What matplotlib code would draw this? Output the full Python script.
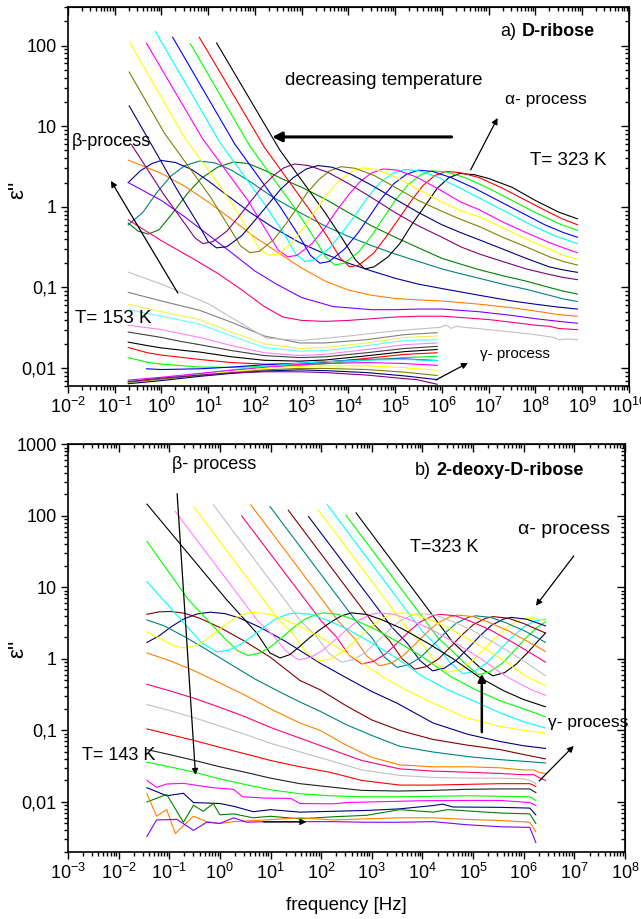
import numpy as np
import matplotlib.pyplot as plt
from matplotlib.ticker import LogLocator, FixedLocator, FixedFormatter, NullFormatter, FuncFormatter

plt.rcParams['font.family'] = ['Liberation Sans', 'DejaVu Sans']
plt.rcParams['mathtext.fontset'] = 'custom'
plt.rcParams['mathtext.rm'] = 'Liberation Sans'

# every curve: list of (log10 frequency [Hz], eps'')

# ---- a) D-ribose, alpha region (323 K downwards)
a_alpha_colors = ['#000000', '#ff0000', '#00ff00', '#0000ff', '#00ffff',
                  '#ff00ff', '#ffff00', '#808000', '#000080', '#800080']
a_alpha = [
    [(1.18, 108), (2.53, 5.1), (3.5, 0.85), (3.9, 0.38), (4.15, 0.22), (4.35, 0.17), (4.55, 0.18), (4.85, 0.24),
     (5.1, 0.35), (5.37, 0.62), (5.65, 1.05), (5.9, 1.7), (6.15, 2.3), (6.39, 2.6), (6.7, 2.5), (7.0, 2.25),
     (7.5, 1.75), (8.0, 1.2), (8.5, 0.86), (8.9, 0.71)],
    [(0.81, 127), (2.21, 5.4), (3.18, 0.9), (3.58, 0.4), (3.83, 0.23), (4.03, 0.18), (4.23, 0.19), (4.55, 0.27),
     (4.8, 0.42), (5.07, 0.7), (5.35, 1.2), (5.6, 1.85), (5.85, 2.45), (6.1, 2.75), (6.4, 2.65), (6.8, 2.3),
     (7.3, 1.7), (7.8, 1.2), (8.3, 0.85), (8.6, 0.7), (8.9, 0.6)],
    [(0.62, 105), (1.89, 5.7), (2.86, 0.95), (3.26, 0.42), (3.51, 0.24), (3.71, 0.19), (3.91, 0.2), (4.23, 0.28),
     (4.5, 0.44), (4.75, 0.73), (5.0, 1.2), (5.28, 1.89), (5.55, 2.5), (5.8, 2.8), (6.1, 2.7), (6.5, 2.3),
     (7.0, 1.7), (7.5, 1.2), (8.0, 0.85), (8.5, 0.62), (8.9, 0.51)],
    [(0.24, 127), (1.57, 6.0), (2.54, 1.0), (2.94, 0.44), (3.19, 0.25), (3.39, 0.2), (3.59, 0.21), (3.92, 0.3),
     (4.2, 0.47), (4.45, 0.76), (4.7, 1.25), (4.97, 1.93), (5.25, 2.55), (5.5, 2.85), (5.8, 2.75), (6.2, 2.3),
     (6.7, 1.7), (7.2, 1.2), (7.7, 0.85), (8.2, 0.6), (8.6, 0.48), (8.9, 0.42)],
    [(-0.13, 150), (1.25, 6.3), (2.22, 1.05), (2.62, 0.47), (2.87, 0.26), (3.07, 0.21), (3.27, 0.22), (3.6, 0.31),
     (3.88, 0.49), (4.14, 0.78), (4.4, 1.28), (4.67, 1.98), (4.95, 2.6), (5.2, 2.9), (5.5, 2.8), (5.9, 2.35),
     (6.4, 1.7), (6.9, 1.2), (7.4, 0.85), (7.9, 0.6), (8.4, 0.44), (8.9, 0.35)],
    [(-0.32, 107), (0.88, 7.0), (1.85, 1.2), (2.25, 0.5), (2.5, 0.29), (2.7, 0.24), (2.9, 0.25), (3.22, 0.35),
     (3.5, 0.55), (3.72, 0.85), (4.0, 1.4), (4.25, 2.05), (4.5, 2.65), (4.75, 2.95), (5.05, 2.85), (5.45, 2.35),
     (5.9, 1.7), (6.4, 1.15), (6.8, 0.92), (7.3, 0.65), (7.8, 0.48), (8.3, 0.36), (8.6, 0.31), (8.9, 0.27)],
    [(-0.69, 112), (0.48, 7.5), (1.45, 1.25), (1.85, 0.52), (2.1, 0.3), (2.3, 0.25), (2.5, 0.26), (2.8, 0.36),
     (3.05, 0.56), (3.3, 0.9), (3.55, 1.45), (3.8, 2.1), (4.05, 2.7), (4.3, 3.05), (4.6, 2.9), (5.0, 2.35),
     (5.5, 1.65), (6.0, 1.15), (6.4, 0.9), (6.8, 0.75), (7.3, 0.55), (7.8, 0.4), (8.3, 0.3), (8.6, 0.25), (8.9, 0.225)],
    [(-0.69, 47), (0.07, 8.1), (1.04, 1.35), (1.44, 0.57), (1.69, 0.33), (1.89, 0.27), (2.09, 0.28), (2.4, 0.39),
     (2.65, 0.6), (2.88, 0.93), (3.12, 1.5), (3.36, 2.15), (3.6, 2.8), (3.85, 3.15), (4.15, 3.0), (4.55, 2.45),
     (5.0, 1.75), (5.5, 1.2), (6.0, 0.88), (6.4, 0.7), (6.8, 0.57), (7.3, 0.42), (7.8, 0.32), (8.3, 0.24),
     (8.6, 0.21), (8.9, 0.19)],
    [(-0.69, 17.9), (0.0, 3.6), (0.33, 1.65), (0.78, 0.62), (1.0, 0.37), (1.18, 0.31), (1.4, 0.32), (1.72, 0.44),
     (2.0, 0.68), (2.27, 1.05), (2.55, 1.65), (2.82, 2.3), (3.1, 2.95), (3.35, 3.25), (3.65, 3.1), (4.05, 2.55),
     (4.5, 1.85), (5.0, 1.25), (5.5, 0.85), (6.0, 0.6), (6.4, 0.48), (6.8, 0.39), (7.3, 0.3), (7.8, 0.23),
     (8.3, 0.18), (8.6, 0.165), (8.9, 0.154)],
    [(-0.64, 5.9), (0.04, 1.45), (0.5, 0.62), (0.72, 0.41), (0.89, 0.35), (1.1, 0.37), (1.4, 0.5), (1.65, 0.75),
     (1.9, 1.15), (2.15, 1.75), (2.4, 2.45), (2.62, 3.05), (2.85, 3.4), (3.15, 3.25), (3.55, 2.7), (4.0, 1.95),
     (4.5, 1.3), (5.0, 0.85), (5.5, 0.58), (6.0, 0.42), (6.4, 0.32), (6.8, 0.26), (7.3, 0.21), (7.8, 0.17),
     (8.3, 0.145), (8.6, 0.133), (8.9, 0.125)],
]

a_mid_colors = ['#008000', '#008080', '#0000a0', '#ff8000', '#8000ff', '#ff0080', '#c0c0c0']
a_mid = [
    [(-0.71, 0.63), (-0.5, 0.5), (-0.28, 0.46), (-0.05, 0.52), (0.25, 0.85), (0.55, 1.45), (0.85, 2.25),
     (1.2, 3.1), (1.54, 3.6), (1.85, 3.45), (2.2, 2.85), (2.6, 2.2), (3.0, 1.75), (3.5, 1.25), (4.0, 0.85),
     (4.5, 0.58), (5.0, 0.42), (5.5, 0.31), (6.0, 0.23), (6.4, 0.195), (6.8, 0.166), (7.3, 0.14), (7.8, 0.12),
     (8.3, 0.1), (8.6, 0.09), (8.9, 0.083)],
    [(-0.71, 0.6), (-0.4, 0.85), (-0.1, 1.5), (0.2, 2.4), (0.5, 3.25), (0.82, 3.7), (1.15, 3.5), (1.5, 2.85),
     (1.9, 2.05), (2.4, 1.3), (2.96, 0.85), (3.5, 0.58), (4.0, 0.43), (4.5, 0.33), (5.0, 0.26), (5.5, 0.21),
     (6.0, 0.17), (6.4, 0.148), (6.8, 0.13), (7.3, 0.11), (7.8, 0.095), (8.3, 0.08), (8.6, 0.072), (8.9, 0.067)],
    [(-0.71, 2.0), (-0.45, 2.8), (-0.2, 3.45), (0.0, 3.76), (0.3, 3.55), (0.65, 2.9), (1.0, 2.1), (1.4, 1.4),
     (1.9, 0.85), (2.4, 0.55), (2.96, 0.36), (3.5, 0.26), (4.0, 0.2), (4.5, 0.16), (5.0, 0.13), (5.5, 0.11),
     (6.0, 0.097), (6.8, 0.08), (7.5, 0.068), (8.0, 0.062), (8.5, 0.057), (8.9, 0.054)],
    [(-0.71, 3.8), (0.0, 2.6), (0.5, 1.8), (1.0, 1.15), (1.5, 0.7), (2.0, 0.42), (2.5, 0.27), (2.96, 0.18),
     (3.5, 0.12), (4.0, 0.093), (4.5, 0.08), (5.0, 0.073), (5.5, 0.07), (6.0, 0.068), (6.8, 0.062), (7.5, 0.056),
     (8.0, 0.051), (8.5, 0.046), (8.9, 0.044)],
    [(-0.71, 2.0), (0.0, 1.2), (0.5, 0.75), (1.0, 0.45), (1.5, 0.27), (2.0, 0.16), (2.46, 0.11), (3.0, 0.075),
     (3.67, 0.058), (4.5, 0.053), (5.0, 0.053), (5.5, 0.054), (6.0, 0.054), (6.8, 0.05), (7.5, 0.045),
     (8.0, 0.041), (8.5, 0.038), (8.9, 0.036)],
    [(-0.71, 0.69), (0.0, 0.38), (0.72, 0.22), (1.2, 0.15), (1.7, 0.095), (2.2, 0.058), (2.6, 0.043), (3.0, 0.039),
     (3.5, 0.038), (4.0, 0.039), (4.5, 0.041), (5.0, 0.043), (5.5, 0.044), (6.0, 0.044), (6.5, 0.042), (7.0, 0.04),
     (7.5, 0.037), (8.0, 0.034), (8.3, 0.033), (8.5, 0.031), (8.9, 0.030)],
    [(-0.71, 0.155), (0.0, 0.11), (1.0, 0.063), (1.7, 0.036), (2.25, 0.0235), (3.0, 0.022), (4.0, 0.025),
     (5.0, 0.029), (5.96, 0.032), (6.1, 0.034), (6.2, 0.031), (6.3, 0.033), (6.5, 0.032), (7.0, 0.03), (7.5, 0.028),
     (8.0, 0.026), (8.4, 0.024), (8.5, 0.0225), (8.7, 0.023), (8.9, 0.0225)],
]

# ---- a) low temperatures (153 K and below), measured up to 8e5 Hz
a_low_colors = ['#808080', '#f0f050', '#60ffff', '#ff80ff', '#404040', '#000000', '#ff0000', '#00ff00',
                '#0000ff', '#00ffff', '#ff00ff', '#ffff00', '#808000', '#000080', '#800080']
a_low = [
    [(-0.71, 0.087), (0.0, 0.068), (0.82, 0.052), (1.5, 0.037), (2.2, 0.025), (2.96, 0.0205), (3.5, 0.0205),
     (4.39, 0.0225), (5.2, 0.026), (5.9, 0.0275)],
    [(-0.71, 0.062), (-0.3, 0.055), (0.0, 0.05), (0.3, 0.046), (0.82, 0.04), (1.5, 0.028), (2.2, 0.02),
     (2.96, 0.0175), (3.5, 0.018), (4.39, 0.0205), (5.2, 0.024), (5.9, 0.025)],
    [(-0.71, 0.053), (0.0, 0.044), (0.82, 0.035), (1.5, 0.025), (2.2, 0.018), (2.96, 0.0162), (3.5, 0.0165),
     (4.39, 0.019), (5.2, 0.022), (5.9, 0.0225)],
    [(-0.71, 0.034), (0.0, 0.03), (0.82, 0.024), (1.5, 0.019), (2.2, 0.0155), (2.96, 0.0143), (3.5, 0.0148),
     (4.39, 0.017), (5.2, 0.0195), (5.9, 0.0205)],
    [(-0.71, 0.028), (0.0, 0.024), (0.4, 0.0215), (0.82, 0.0195), (1.5, 0.0165), (2.2, 0.0143), (2.96, 0.0135),
     (3.5, 0.0138), (4.39, 0.0155), (5.2, 0.0175), (5.9, 0.0186)],
    [(-0.71, 0.021), (-0.3, 0.019), (0.0, 0.0178), (0.5, 0.0165), (0.82, 0.0158), (1.5, 0.0138), (2.2, 0.0125),
     (2.96, 0.0122), (3.5, 0.0126), (4.39, 0.0142), (5.2, 0.016), (5.9, 0.017)],
    [(-0.71, 0.018), (-0.3, 0.0155), (0.0, 0.0145), (0.82, 0.0128), (1.5, 0.0117), (2.2, 0.0112), (2.96, 0.0112),
     (3.5, 0.0118), (4.39, 0.0132), (5.2, 0.0148), (5.9, 0.0155)],
    [(-0.71, 0.0135), (-0.3, 0.0118), (0.0, 0.0112), (0.82, 0.0103), (1.5, 0.0102), (2.2, 0.0105), (2.96, 0.0108),
     (3.5, 0.0113), (4.39, 0.0125), (5.2, 0.0135), (5.9, 0.014)],
    [(-0.32, 0.0098), (0.0, 0.0096), (0.82, 0.0098), (1.5, 0.0103), (2.2, 0.011), (2.96, 0.0115), (3.5, 0.012),
     (4.39, 0.0128), (5.2, 0.013), (5.9, 0.0124)],
    [(-0.71, 0.0068), (0.0, 0.0074), (0.82, 0.0085), (1.5, 0.0095), (2.2, 0.0105), (2.96, 0.0115), (3.5, 0.012),
     (4.39, 0.0126), (5.2, 0.0128), (5.9, 0.0124)],
    [(-0.71, 0.0071), (0.0, 0.0077), (0.82, 0.0086), (1.5, 0.0094), (2.2, 0.0102), (2.96, 0.011), (3.5, 0.0114),
     (4.39, 0.0117), (5.2, 0.0114), (5.9, 0.0108)],
    [(-0.71, 0.0066), (0.0, 0.0072), (0.82, 0.0082), (1.5, 0.009), (2.2, 0.0099), (2.96, 0.0105), (3.5, 0.0107),
     (4.39, 0.0107), (5.2, 0.0101), (5.9, 0.0094)],
    [(-0.71, 0.0067), (0.0, 0.0073), (0.82, 0.0081), (1.5, 0.0088), (2.2, 0.0095), (2.96, 0.0099), (3.5, 0.0099),
     (4.39, 0.0096), (5.2, 0.0089), (5.9, 0.0081)],
    [(-0.71, 0.0064), (0.0, 0.007), (0.82, 0.0079), (1.5, 0.0086), (2.2, 0.0092), (2.96, 0.0095), (3.5, 0.0093),
     (4.39, 0.0088), (5.2, 0.008), (5.9, 0.0072)],
    [(-0.71, 0.0068), (-0.3, 0.0072), (0.0, 0.0075), (0.5, 0.0079), (0.82, 0.0082), (1.5, 0.0087), (2.2, 0.009),
     (2.96, 0.009), (3.5, 0.0088), (4.39, 0.0082), (5.2, 0.0074), (5.46, 0.0072), (5.9, 0.0063)],
]

# ---- b) 2-deoxy-D-ribose, alpha region (323 K downwards)
b_alpha_colors = ['#000000', '#00ff00', '#00ffff', '#ffff00', '#000080', '#800000', '#008080', '#ff8000',
                  '#ff0080', '#c0c0c0', '#ffff00', '#ff80ff', '#000000', '#00ff00', '#00ffff', '#ffff00']
b_alpha = [
    [(2.69, 110), (4.59, 1.74), (4.89, 1.1), (5.14, 0.75), (5.39, 0.58), (5.62, 0.64), (5.85, 0.84), (6.09, 1.25),
     (6.32, 1.9), (6.43, 2.3)],
    [(2.49, 102), (4.3, 2.0), (4.6, 1.26), (4.85, 0.85), (5.1, 0.6), (5.33, 0.66), (5.57, 0.86), (5.8, 1.27),
     (6.03, 1.92), (6.26, 2.75), (6.43, 3.3)],
    [(2.12, 143), (4.0, 2.4), (4.3, 1.5), (4.55, 0.88), (4.8, 0.62), (5.04, 0.68), (5.27, 0.88), (5.51, 1.3),
     (5.75, 1.95), (5.99, 2.76), (6.22, 3.41), (6.43, 3.6)],
    [(1.94, 121), (3.7, 2.65), (4.0, 1.6), (4.25, 0.9), (4.5, 0.65), (4.74, 0.71), (4.97, 0.92), (5.21, 1.35),
     (5.45, 2.0), (5.69, 2.85), (5.92, 3.5), (6.08, 3.7), (6.25, 3.6), (6.43, 3.45)],
    [(1.75, 98), (3.4, 2.76), (3.7, 1.66), (3.95, 0.95), (4.2, 0.68), (4.43, 0.74), (4.67, 0.96), (4.9, 1.4),
     (5.13, 2.08), (5.36, 2.94), (5.6, 3.6), (5.75, 3.8), (6.05, 3.6), (6.43, 2.9)],
    [(1.35, 120), (3.05, 3.0), (3.35, 1.8), (3.6, 1.0), (3.85, 0.72), (4.08, 0.78), (4.32, 1.0), (4.55, 1.46),
     (4.78, 2.16), (5.01, 3.03), (5.25, 3.7), (5.4, 3.9), (5.7, 3.7), (6.0, 3.12), (6.43, 2.3)],
    [(0.99, 135), (2.7, 3.3), (3.0, 2.0), (3.25, 1.06), (3.5, 0.76), (3.73, 0.83), (3.97, 1.06), (4.2, 1.53),
     (4.43, 2.24), (4.66, 3.12), (4.9, 3.8), (5.05, 4.0), (5.35, 3.8), (5.65, 3.2), (6.05, 2.4), (6.43, 1.7)],
    [(0.61, 143), (2.35, 3.3), (2.65, 1.97), (2.9, 1.1), (3.15, 0.8), (3.38, 0.87), (3.62, 1.11), (3.85, 1.59),
     (4.08, 2.32), (4.31, 3.2), (4.55, 3.9), (4.7, 4.1), (5.0, 3.9), (5.3, 3.28), (5.7, 2.46), (6.1, 1.72),
     (6.43, 1.27)],
    [(0.43, 100), (2.0, 3.4), (2.3, 2.04), (2.55, 1.13), (2.8, 0.85), (3.03, 0.92), (3.27, 1.17), (3.5, 1.66),
     (3.73, 2.4), (3.96, 3.3), (4.2, 4.0), (4.35, 4.2), (4.65, 4.0), (4.95, 3.36), (5.35, 2.52), (5.85, 1.6),
     (6.43, 0.9)],
    [(-0.13, 143), (1.6, 3.35), (1.9, 2.1), (2.15, 1.2), (2.4, 0.9), (2.63, 0.97), (2.87, 1.23), (3.1, 1.73),
     (3.33, 2.48), (3.56, 3.4), (3.8, 4.1), (3.95, 4.3), (4.25, 4.1), (4.55, 3.44), (4.95, 2.58), (5.45, 1.63),
     (5.95, 0.99), (6.43, 0.58)],
    [(-0.52, 135), (1.15, 3.6), (1.45, 2.2), (1.7, 1.25), (1.95, 0.93), (2.19, 1.0), (2.43, 1.27), (2.67, 1.79),
     (2.91, 2.55), (3.15, 3.48), (3.39, 4.2), (3.55, 4.4), (3.85, 4.18), (4.15, 3.52), (4.55, 2.64), (5.05, 1.67),
     (5.55, 1.01), (6.05, 0.57), (6.43, 0.42)],
    [(-0.88, 115), (0.75, 3.4), (1.05, 2.14), (1.3, 1.3), (1.55, 0.97), (1.79, 1.05), (2.03, 1.31), (2.27, 1.83),
     (2.51, 2.59), (2.75, 3.5), (2.99, 4.2), (3.15, 4.4), (3.45, 4.18), (3.75, 3.52), (4.15, 2.64), (4.65, 1.67),
     (5.15, 1.01), (5.65, 0.57), (6.15, 0.37), (6.43, 0.31)],
    [(-1.44, 146), (0.136, 6.7), (0.728, 2.3), (0.99, 1.21), (1.19, 1.03), (1.385, 1.15), (1.58, 1.5), (1.78, 2.0),
     (1.98, 2.57), (2.2, 3.3), (2.4, 4.0), (2.6, 4.4), (2.9, 4.18), (3.2, 3.52), (3.6, 2.64), (4.1, 1.67),
     (4.6, 1.01), (5.13, 0.55), (5.6, 0.36), (6.0, 0.27), (6.43, 0.214)],
    [(-1.44, 44), (-0.62, 6.7), (0.09, 1.95), (0.35, 1.3), (0.55, 1.12), (0.775, 1.2), (1.0, 1.47), (1.225, 1.99),
     (1.45, 2.72), (1.675, 3.58), (1.9, 4.2), (2.05, 4.4), (2.35, 4.18), (2.65, 3.52), (3.05, 2.64), (3.55, 1.67),
     (4.05, 1.01), (4.55, 0.57), (5.05, 0.37), (5.53, 0.26), (6.0, 0.2), (6.43, 0.155)],
    [(-1.44, 12), (-0.65, 2.85), (-0.35, 1.65), (-0.05, 1.25), (0.18, 1.33), (0.41, 1.6), (0.65, 2.1), (0.88, 2.8),
     (1.11, 3.65), (1.35, 4.23), (1.5, 4.4), (1.8, 4.18), (2.1, 3.52), (2.5, 2.64), (3.0, 1.67), (3.5, 1.01),
     (4.0, 0.57), (4.5, 0.37), (5.0, 0.26), (5.5, 0.18), (6.0, 0.132), (6.43, 0.108)],
    [(-1.44, 2.4), (-1.1, 1.8), (-0.9, 1.52), (-0.72, 1.42), (-0.51, 1.5), (-0.31, 1.79), (-0.1, 2.3), (0.11, 2.99),
     (0.315, 3.77), (0.52, 4.33), (0.66, 4.47), (0.96, 4.25), (1.26, 3.58), (1.66, 2.68), (2.16, 1.7), (2.66, 1.03),
     (3.22, 0.56), (3.66, 0.37), (4.16, 0.25), (4.87, 0.15), (5.5, 0.115), (6.0, 0.1), (6.43, 0.092)],
]

b_mid_colors = ['#000080', '#800000', '#008080', '#ff8000', '#ff0080', '#c0c0c0', '#ff0000', '#202020', '#00ff00']
b_mid = [
    [(-1.44, 1.7), (-1.2, 2.1), (-0.95, 2.85), (-0.7, 3.65), (-0.45, 4.25), (-0.19, 4.5), (0.1, 4.3), (0.4, 3.7),
     (0.8, 2.75), (1.3, 1.75), (1.98, 0.87), (2.57, 0.51), (3.0, 0.35), (3.5, 0.24), (4.21, 0.127), (4.9, 0.088),
     (5.53, 0.07), (6.0, 0.061), (6.43, 0.056)],
    [(-1.44, 4.2), (-1.2, 4.55), (-0.98, 4.6), (-0.7, 4.35), (-0.4, 3.7), (0.0, 2.75), (0.5, 1.75), (1.0, 1.05),
     (1.58, 0.5), (1.98, 0.37), (2.5, 0.22), (3.0, 0.14), (3.55, 0.1), (4.2, 0.075), (4.9, 0.062), (5.53, 0.054),
     (6.0, 0.046), (6.43, 0.04)],
    [(-1.44, 3.5), (-1.1, 2.9), (-0.7, 2.05), (-0.3, 1.4), (0.2, 0.85), (0.7, 0.52), (1.2, 0.34), (1.58, 0.25),
     (1.98, 0.185), (2.5, 0.12), (3.0, 0.085), (3.55, 0.06), (4.2, 0.05), (4.9, 0.043), (5.53, 0.039),
     (6.0, 0.037), (6.43, 0.035)],
    [(-1.44, 1.21), (-1.0, 0.95), (-0.5, 0.68), (0.0, 0.46), (0.5, 0.31), (1.0, 0.2), (1.58, 0.127), (1.98, 0.1),
     (2.5, 0.062), (3.0, 0.042), (3.55, 0.033), (4.2, 0.031), (4.9, 0.031), (5.53, 0.03), (6.0, 0.028),
     (6.2, 0.028), (6.3, 0.026), (6.43, 0.025)],
    [(-1.44, 0.44), (-1.0, 0.36), (-0.5, 0.28), (0.0, 0.21), (0.5, 0.155), (1.0, 0.11), (1.58, 0.078),
     (2.17, 0.055), (2.8, 0.038), (3.55, 0.029), (4.2, 0.027), (4.9, 0.026), (5.53, 0.025), (6.0, 0.024),
     (6.2, 0.024), (6.3, 0.022), (6.43, 0.02)],
    [(-1.44, 0.23), (-1.0, 0.19), (-0.5, 0.15), (0.0, 0.115), (0.5, 0.088), (1.0, 0.066), (1.58, 0.05),
     (2.17, 0.038), (2.8, 0.028), (3.55, 0.0235), (4.2, 0.022), (4.9, 0.0215), (5.53, 0.0215), (6.0, 0.021),
     (6.12, 0.02), (6.24, 0.018)],
    [(-1.44, 0.105), (-1.0, 0.088), (-0.5, 0.072), (0.0, 0.058), (0.5, 0.047), (1.0, 0.038), (1.58, 0.031),
     (2.17, 0.026), (2.8, 0.02), (3.55, 0.0172), (4.2, 0.0172), (4.87, 0.0176), (5.53, 0.018), (6.12, 0.018),
     (6.24, 0.0165)],
    [(-1.44, 0.054), (-1.0, 0.046), (-0.5, 0.038), (0.0, 0.031), (0.5, 0.026), (1.0, 0.0215), (1.58, 0.018),
     (2.17, 0.0162), (2.8, 0.0145), (3.55, 0.0142), (4.2, 0.0145), (4.87, 0.015), (5.53, 0.0152), (6.12, 0.0152),
     (6.24, 0.0135)],
    [(-1.44, 0.036), (-1.0, 0.031), (-0.5, 0.026), (0.0, 0.021), (0.5, 0.0175), (1.0, 0.0148), (1.58, 0.013),
     (2.17, 0.0122), (2.8, 0.0118), (3.55, 0.0118), (4.2, 0.012), (4.87, 0.0122), (5.53, 0.012), (6.12, 0.0118),
     (6.24, 0.0105)],
]

# ---- b) lowest temperatures (143 K and below), noisy data
b_low_colors = ['#ff00ff', '#000080', '#008000', '#ff8000', '#8000ff']
b_low = [
    [(-1.44, 0.02), (-1.25, 0.016), (-1.05, 0.0178), (-0.72, 0.0182), (-0.45, 0.017), (-0.13, 0.0158),
     (0.27, 0.015), (0.45, 0.0118), (0.92, 0.0113), (1.4, 0.0112), (1.58, 0.0095), (2.24, 0.0094), (2.5, 0.0098),
     (3.0, 0.01), (4.0, 0.0104), (5.0, 0.0105), (5.53, 0.0105), (6.12, 0.0098), (6.24, 0.0089)],
    [(-1.44, 0.0158), (-1.05, 0.0122), (-0.72, 0.0132), (-0.52, 0.0098), (0.0, 0.0095), (0.27, 0.0087),
     (0.66, 0.0073), (1.0, 0.0078), (1.58, 0.0072), (2.24, 0.0074), (2.9, 0.0076), (3.55, 0.008), (4.21, 0.0089),
     (4.4, 0.0093), (4.6, 0.0085), (5.53, 0.0084), (6.12, 0.0082), (6.24, 0.0066)],
    [(-1.44, 0.01), (-1.05, 0.0127), (-0.72, 0.0052), (-0.52, 0.009), (-0.33, 0.0074), (-0.13, 0.0095),
     (0.0, 0.0066), (0.27, 0.0068), (0.66, 0.006), (1.0, 0.0063), (1.58, 0.0058), (2.24, 0.0062), (2.9, 0.0065),
     (3.55, 0.0078), (4.21, 0.0072), (4.5, 0.0078), (5.53, 0.007), (6.12, 0.0068), (6.24, 0.005)],
    [(-1.44, 0.013), (-1.25, 0.0063), (-1.05, 0.0078), (-0.88, 0.0036), (-0.52, 0.0063), (-0.26, 0.0053),
     (0.0, 0.005), (0.27, 0.0053), (0.92, 0.0056), (1.58, 0.006), (2.24, 0.0056), (2.9, 0.0058), (3.55, 0.006),
     (4.21, 0.006), (4.87, 0.0057), (5.53, 0.0055), (6.12, 0.0052), (6.24, 0.0038)],
    [(-1.44, 0.0033), (-1.25, 0.0056), (-0.85, 0.0057), (-0.52, 0.004), (-0.26, 0.0052), (0.0, 0.005),
     (0.27, 0.006), (0.53, 0.0052), (0.92, 0.0053), (1.58, 0.0053), (2.24, 0.0053), (2.9, 0.0052), (3.55, 0.0052),
     (4.21, 0.0053), (4.87, 0.0048), (5.53, 0.0045), (6.12, 0.0044), (6.24, 0.0027)],
]

a_yticks = [0.01, 0.1, 1, 10, 100]
a_ylabels = ['0,01', '0,1', '1', '10', '100']
b_yticks = [0.01, 0.1, 1, 10, 100, 1000]
b_ylabels = ['0,01', '0,1', '1', '10', '100', '1000']


def draw(ax, curves, colors):
    for pts, c in zip(curves, colors):
        lf, e = zip(*pts)
        ax.plot(10 ** np.array(lf), e, color=c, lw=0.8)


def dec(x, pos):
    return r'$\mathregular{10^{%d}}$' % round(np.log10(x))


def style(ax, xlim, ylim, yticks, ylabels):
    ax.set_xscale('log')
    ax.set_yscale('log')
    ax.set_xlim(*xlim)
    ax.set_ylim(*ylim)
    ax.xaxis.set_major_locator(LogLocator(base=10, numticks=50))
    ax.xaxis.set_minor_locator(LogLocator(base=10, subs=np.arange(2, 10), numticks=50))
    ax.xaxis.set_major_formatter(FuncFormatter(dec))
    ax.xaxis.set_minor_formatter(NullFormatter())
    ax.yaxis.set_major_locator(FixedLocator(yticks))
    ax.yaxis.set_major_formatter(FixedFormatter(ylabels))
    ax.yaxis.set_minor_locator(LogLocator(base=10, subs=np.arange(2, 10), numticks=50))
    ax.yaxis.set_minor_formatter(NullFormatter())
    ax.tick_params(which='both', direction='out', width=1.0, labelsize=13, pad=3)
    ax.tick_params(which='major', length=5)
    ax.tick_params(which='minor', length=2.8)
    for s in ax.spines.values():
        s.set_linewidth(1.2)
    top = ax.secondary_xaxis('top')
    top.xaxis.set_major_locator(LogLocator(base=10, numticks=50))
    top.xaxis.set_minor_locator(LogLocator(base=10, subs=np.arange(2, 10), numticks=50))
    top.xaxis.set_major_formatter(NullFormatter())
    top.xaxis.set_minor_formatter(NullFormatter())
    top.tick_params(which='both', direction='in', width=1.0)
    top.tick_params(which='major', length=5.5)
    top.tick_params(which='minor', length=3)
    right = ax.secondary_yaxis('right')
    right.yaxis.set_major_locator(FixedLocator(yticks))
    right.yaxis.set_minor_locator(LogLocator(base=10, subs=np.arange(2, 10), numticks=50))
    right.yaxis.set_major_formatter(NullFormatter())
    right.yaxis.set_minor_formatter(NullFormatter())
    right.tick_params(which='both', direction='in', width=1.0)
    right.tick_params(which='major', length=5.5)
    right.tick_params(which='minor', length=3)


def arrow(ax, tail, head, lw=0.9, ms=9):
    ax.annotate('', xy=head, xytext=tail, xycoords='axes fraction', textcoords='axes fraction',
                arrowprops=dict(arrowstyle='-|>', color='k', lw=lw, mutation_scale=ms, shrinkA=0, shrinkB=0))


fig = plt.figure(figsize=(6.41, 9.19), dpi=100)
ax1 = fig.add_axes([0.106, 0.580, 0.875, 0.4125])
ax2 = fig.add_axes([0.106, 0.073, 0.869, 0.4435])

draw(ax1, a_low, a_low_colors)
draw(ax1, a_mid, a_mid_colors)
draw(ax1, a_alpha, a_alpha_colors)
style(ax1, (1e-2, 1e10), (0.006, 302), a_yticks, a_ylabels)

draw(ax2, b_low, b_low_colors)
draw(ax2, b_mid, b_mid_colors)
draw(ax2, b_alpha, b_alpha_colors)
style(ax2, (1e-3, 1e8), (0.002, 1000), b_yticks, b_ylabels)

fs = 13.5
# panel a annotations
t = ax1.text(0.770, 0.934, 'a)', transform=ax1.transAxes, fontsize=13, va='center')
ax1.annotate('D-ribose', xy=(1, 0), xycoords=t, xytext=(4, 0), textcoords='offset points',
             fontsize=13, fontweight='bold', va='bottom')
ax1.text(0.387, 0.807, 'decreasing temperature', transform=ax1.transAxes, fontsize=fs, va='center')
ax1.text(0.779, 0.755, 'α- process', transform=ax1.transAxes, fontsize=12.5, va='center')
ax1.text(0.824, 0.596, 'T= 323 K', transform=ax1.transAxes, fontsize=fs, va='center')
ax1.text(0.007, 0.646, 'β-process', transform=ax1.transAxes, fontsize=13, va='center')
ax1.text(0.0125, 0.179, 'T= 153 K', transform=ax1.transAxes, fontsize=fs, va='center')
ax1.text(0.734, 0.084, 'γ- process', transform=ax1.transAxes, fontsize=11, va='center')
arrow(ax1, (0.684, 0.657), (0.364, 0.657), lw=2.2, ms=14)
arrow(ax1, (0.718, 0.570), (0.766, 0.707))
arrow(ax1, (0.196, 0.245), (0.0766, 0.541))
arrow(ax1, (0.656, 0.0158), (0.713, 0.0607))

# panel b annotations
t = ax2.text(0.623, 0.937, 'b)', transform=ax2.transAxes, fontsize=13, va='center')
ax2.annotate('2-deoxy-D-ribose', xy=(1, 0), xycoords=t, xytext=(4, 0), textcoords='offset points',
             fontsize=13, fontweight='bold', va='bottom')
ax2.text(0.187, 0.950, 'β- process', transform=ax2.transAxes, fontsize=13, va='center')
ax2.text(0.808, 0.790, 'α- process', transform=ax2.transAxes, fontsize=14, va='center')
ax2.text(0.614, 0.746, 'T=323 K', transform=ax2.transAxes, fontsize=13, va='center')
ax2.text(0.862, 0.317, 'γ- process', transform=ax2.transAxes, fontsize=12.5, va='center')
ax2.text(0.0257, 0.236, 'T= 143 K', transform=ax2.transAxes, fontsize=13, va='center')
arrow(ax2, (0.196, 0.879), (0.229, 0.189))
arrow(ax2, (0.908, 0.726), (0.840, 0.604))
arrow(ax2, (0.743, 0.294), (0.743, 0.437), lw=1.8, ms=11)
arrow(ax2, (0.846, 0.174), (0.908, 0.260))
arrow(ax2, (0.351, 0.0736), (0.428, 0.0736))

fig.text(0.027, 0.793, "ε''", rotation=90, fontsize=16, ha='center', va='center')
fig.text(0.027, 0.294, "ε''", rotation=90, fontsize=16, ha='center', va='center')
fig.text(0.54, 0.015, 'frequency [Hz]', fontsize=13.5, ha='center', va='center')

fig.savefig('out.png', dpi=100)
